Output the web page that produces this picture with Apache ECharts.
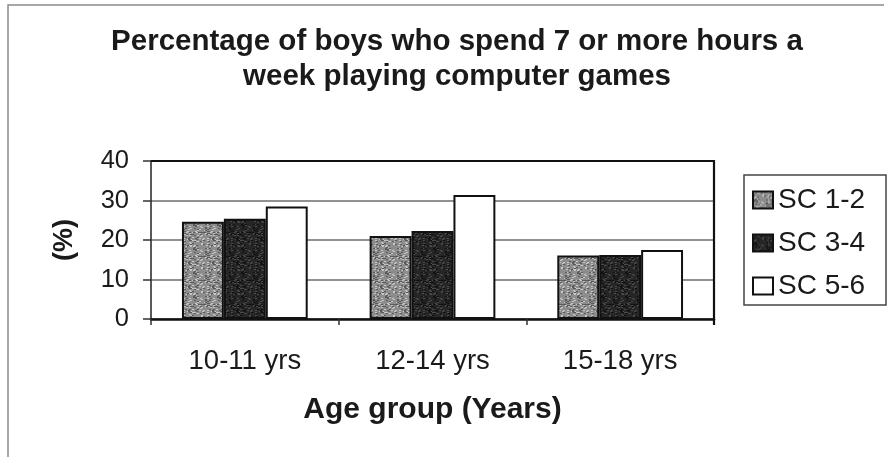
<!DOCTYPE html>
<html>
<head>
<meta charset="utf-8">
<script src="https://cdn.jsdelivr.net/npm/echarts@6/dist/echarts.min.js"></script>
<style>
  html, body { margin: 0; padding: 0; background: #fff; }
  #chart { width: 888px; height: 457px; }
</style>
</head>
<body>
<div id="chart"></div>
<script>
// Age groups along the x axis
const ageGroups = ['10-11 yrs', '12-14 yrs', '15-18 yrs'];
// Share of boys (%) playing 7+ hours a week, by social class band
const sc12 = [24.6, 21.0, 16.1];
const sc34 = [25.4, 22.3, 16.2];
const sc56 = [28.5, 31.4, 17.5];
const seriesNames = ['SC 1-2', 'SC 3-4', 'SC 5-6'];
const yTicks = [0, 10, 20, 30, 40];

const FONT = '"Liberation Sans", Arial, sans-serif';

// Speckled fill for the patterned bars
function speckle(base, light, dark) {
  const c = document.createElement('canvas');
  c.width = 24; c.height = 24;
  const g = c.getContext('2d');
  g.fillStyle = base; g.fillRect(0, 0, 24, 24);
  let s = 7;
  const rnd = () => { s = (s * 16807) % 2147483647; return s / 2147483647; };
  for (let i = 0; i < 120; i++) {
    g.fillStyle = rnd() < 0.5 ? light : dark;
    g.fillRect(Math.floor(rnd() * 24), Math.floor(rnd() * 24), 2, 1);
  }
  return { image: c, repeat: 'repeat' };
}

const chart = echarts.init(document.getElementById('chart'), null, { renderer: 'canvas' });

const barBorder = { borderColor: '#111', borderWidth: 2 };

chart.setOption({
  animation: false,
  backgroundColor: '#fff',
  title: {
    text: 'Percentage of boys who spend 7 or more hours a\nweek playing computer games',
    left: 452, top: 19, textAlign: 'center',
    textStyle: { fontFamily: FONT, fontWeight: 'bold', fontSize: 29.5, lineHeight: 35, color: '#1a1a1a' }
  },
  legend: {
    orient: 'vertical',
    left: 747, top: 181,
    itemWidth: 20, itemHeight: 17, itemGap: 15,
    icon: 'rect',
    data: seriesNames,
    textStyle: { fontFamily: FONT, fontSize: 28, color: '#1a1a1a', lineHeight: 22 }
  },
  grid: { left: 151, right: 174, top: 161, bottom: 138 },
  xAxis: {
    type: 'category',
    data: ageGroups,
    name: 'Age group (Years)',
    nameLocation: 'middle',
    nameGap: 76,
    nameTextStyle: { fontFamily: FONT, fontWeight: 'bold', fontSize: 30, color: '#1a1a1a' },
    axisLine: { lineStyle: { color: '#111', width: 2.5 } },
    axisTick: { show: true, length: 6, lineStyle: { color: '#333', width: 1.5 } },
    axisLabel: { fontFamily: FONT, fontSize: 27.5, color: '#1a1a1a', margin: 28 }
  },
  yAxis: {
    type: 'value',
    min: 0, max: 40, interval: 10,
    name: '(%)',
    nameLocation: 'middle',
    nameGap: 73,
    nameRotate: 90,
    nameTextStyle: { fontFamily: FONT, fontWeight: 'bold', fontSize: 27, color: '#1a1a1a' },
    axisLine: { show: true, lineStyle: { color: '#222', width: 1.5 } },
    axisTick: { show: true, length: 8, lineStyle: { color: '#333', width: 1.5 } },
    axisLabel: {
      fontFamily: FONT, fontSize: 25.5, color: '#1a1a1a', margin: 22,
      formatter: v => yTicks.includes(v) ? String(v) : ''
    },
    splitLine: { show: true, lineStyle: { color: '#6d6d6d', width: 1.5 } }
  },
  graphic: [
    // outer frame (top and left edges)
    { type: 'polyline', shape: { points: [[8, 457], [8, 5], [884, 5]] },
      style: { stroke: '#8a8a8a', lineWidth: 1.5, fill: null }, silent: true },
    // plot area frame: heavy top, right edge
    { type: 'polyline', shape: { points: [[151, 161], [714, 161], [714, 325]] },
      style: { stroke: '#111', lineWidth: 2.2, fill: null }, silent: true, z: 10 },
    // legend box
    { type: 'rect', shape: { x: 744, y: 175, width: 142, height: 130 },
      style: { stroke: '#444', lineWidth: 1.5, fill: '#fff' }, silent: true, z: 0 }
  ],
  series: [
    { name: seriesNames[0], type: 'bar', data: sc12, barGap: '0%', barCategoryGap: '33%',
      itemStyle: Object.assign({ color: speckle('#8d8d8d', '#c4c4c4', '#5a5a5a') }, barBorder) },
    { name: seriesNames[1], type: 'bar', data: sc34,
      itemStyle: Object.assign({ color: speckle('#262626', '#4a4a4a', '#111') }, barBorder) },
    { name: seriesNames[2], type: 'bar', data: sc56,
      itemStyle: Object.assign({ color: '#ffffff' }, barBorder) }
  ]
});
</script>
</body>
</html>
